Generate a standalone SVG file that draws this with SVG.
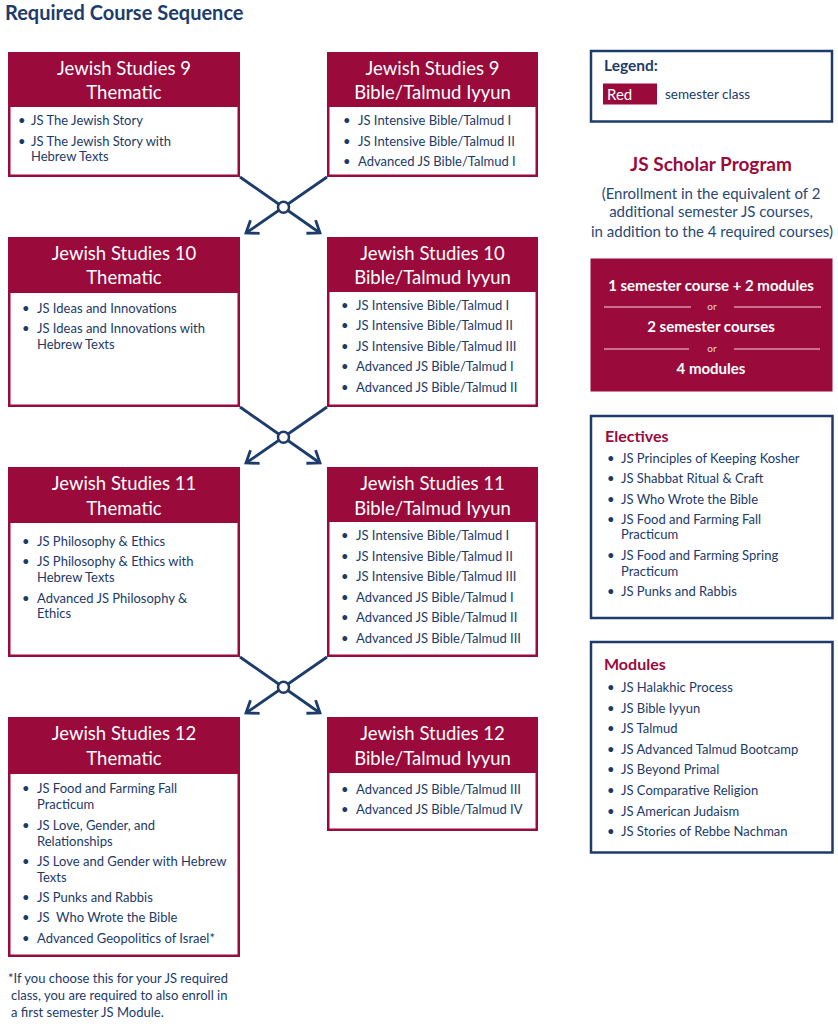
<svg xmlns="http://www.w3.org/2000/svg" width="838" height="1024" viewBox="0 0 838 1024">
<style>
text{font-family:Lato,"Noto Sans","Liberation Sans",sans-serif}
.red{fill:#9a0a3b}
.body{fill:#ffffff}
.hd{fill:#ffffff;font-size:18.5px;text-anchor:middle}
.it{fill:#1b3a68;font-size:13px}
.bl{fill:#1b3a68;font-size:13px}
.nv{fill:none;stroke:#1d3c6b;stroke-width:2.5}
.ttl{fill:#1d3c6b;font-size:20px;font-weight:bold}
.rt{fill:#9a0a3b;font-weight:bold}
.wb{fill:#ffffff;font-weight:bold;font-size:15px;text-anchor:middle}
.or{fill:#f0d8df;font-size:10px;text-anchor:middle}
.conn{fill:none;stroke:#1d3c6b;stroke-width:2.8}
.sp{fill:#2b4874;font-size:15px;text-anchor:middle}
</style>
<defs>
<marker id="arr" markerUnits="userSpaceOnUse" viewBox="-16 -12 20 24" markerWidth="20" markerHeight="24" refX="0" refY="0" orient="auto">
<path d="M-11,-8 L0,0 L-11,8" fill="none" stroke="#1d3c6b" stroke-width="2.8"/>
</marker>
</defs>
<rect width="838" height="1024" fill="#ffffff"/>
<text class="ttl" x="5" y="20">Required Course Sequence</text>

<g id="js9-thematic">
<rect class="red" x="8" y="52" width="232" height="125"/>
<rect class="body" x="10.5" y="107" width="227" height="67.5"/>
<text class="hd" x="124" y="74.5">Jewish Studies 9</text>
<text class="hd" x="124" y="98.5">Thematic</text>
<text class="bl" x="18" y="125">•</text><text class="it" x="31" y="125">JS The Jewish Story</text>
<text class="bl" x="18" y="146">•</text><text class="it" x="31" y="146">JS The Jewish Story with</text>
<text class="it" x="31" y="161">Hebrew Texts</text>
</g>

<g id="js9-bible">
<rect class="red" x="327" y="52" width="211" height="125"/>
<rect class="body" x="329.5" y="107" width="206" height="67.5"/>
<text class="hd" x="432.5" y="74.5">Jewish Studies 9</text>
<text class="hd" x="432.5" y="98.5">Bible/Talmud Iyyun</text>
<text class="bl" x="343" y="125">•</text><text class="it" x="358" y="125">JS Intensive Bible/Talmud I</text>
<text class="bl" x="343" y="146">•</text><text class="it" x="358" y="146">JS Intensive Bible/Talmud II</text>
<text class="bl" x="343" y="166">•</text><text class="it" x="358" y="166">Advanced JS Bible/Talmud I</text>
</g>

<g id="js10-thematic">
<rect class="red" x="8" y="237" width="232" height="170"/>
<rect class="body" x="10.5" y="293" width="227" height="111.5"/>
<text class="hd" x="124" y="259.5">Jewish Studies 10</text>
<text class="hd" x="124" y="284">Thematic</text>
<text class="bl" x="22" y="313">•</text><text class="it" x="37" y="313">JS Ideas and Innovations</text>
<text class="bl" x="22" y="333">•</text><text class="it" x="37" y="333">JS Ideas and Innovations with</text>
<text class="it" x="37" y="349">Hebrew Texts</text>
</g>

<g id="js10-bible">
<rect class="red" x="327" y="237" width="211" height="170"/>
<rect class="body" x="329.5" y="292" width="206" height="112.5"/>
<text class="hd" x="432.5" y="259.5">Jewish Studies 10</text>
<text class="hd" x="432.5" y="284">Bible/Talmud Iyyun</text>
<text class="bl" x="341" y="310">•</text><text class="it" x="356" y="310">JS Intensive Bible/Talmud I</text>
<text class="bl" x="341" y="330">•</text><text class="it" x="356" y="330">JS Intensive Bible/Talmud II</text>
<text class="bl" x="341" y="351">•</text><text class="it" x="356" y="351">JS Intensive Bible/Talmud III</text>
<text class="bl" x="341" y="371">•</text><text class="it" x="356" y="371">Advanced JS Bible/Talmud I</text>
<text class="bl" x="341" y="392">•</text><text class="it" x="356" y="392">Advanced JS Bible/Talmud II</text>
</g>

<g id="js11-thematic">
<rect class="red" x="8" y="467" width="232" height="190"/>
<rect class="body" x="10.5" y="523" width="227" height="131.5"/>
<text class="hd" x="124" y="490">Jewish Studies 11</text>
<text class="hd" x="124" y="514.5">Thematic</text>
<text class="bl" x="22" y="546">•</text><text class="it" x="37" y="546">JS Philosophy &amp; Ethics</text>
<text class="bl" x="22" y="566">•</text><text class="it" x="37" y="566">JS Philosophy &amp; Ethics with</text>
<text class="it" x="37" y="582">Hebrew Texts</text>
<text class="bl" x="22" y="603">•</text><text class="it" x="37" y="603">Advanced JS Philosophy &amp;</text>
<text class="it" x="37" y="618">Ethics</text>
</g>

<g id="js11-bible">
<rect class="red" x="327" y="467" width="211" height="190"/>
<rect class="body" x="329.5" y="522" width="206" height="132.5"/>
<text class="hd" x="432.5" y="490">Jewish Studies 11</text>
<text class="hd" x="432.5" y="514.5">Bible/Talmud Iyyun</text>
<text class="bl" x="341" y="540">•</text><text class="it" x="356" y="540">JS Intensive Bible/Talmud I</text>
<text class="bl" x="341" y="561">•</text><text class="it" x="356" y="561">JS Intensive Bible/Talmud II</text>
<text class="bl" x="341" y="581">•</text><text class="it" x="356" y="581">JS Intensive Bible/Talmud III</text>
<text class="bl" x="341" y="602">•</text><text class="it" x="356" y="602">Advanced JS Bible/Talmud I</text>
<text class="bl" x="341" y="622">•</text><text class="it" x="356" y="622">Advanced JS Bible/Talmud II</text>
<text class="bl" x="341" y="643">•</text><text class="it" x="356" y="643">Advanced JS Bible/Talmud III</text>
</g>

<g id="js12-thematic">
<rect class="red" x="8" y="717" width="232" height="240"/>
<rect class="body" x="10.5" y="774" width="227" height="180.5"/>
<text class="hd" x="124" y="740">Jewish Studies 12</text>
<text class="hd" x="124" y="765">Thematic</text>
<text class="bl" x="22" y="793">•</text><text class="it" x="37" y="793">JS Food and Farming Fall</text>
<text class="it" x="37" y="809">Practicum</text>
<text class="bl" x="22" y="830">•</text><text class="it" x="37" y="830">JS Love, Gender, and</text>
<text class="it" x="37" y="846">Relationships</text>
<text class="bl" x="22" y="866">•</text><text class="it" x="37" y="866">JS Love and Gender with Hebrew</text>
<text class="it" x="37" y="882">Texts</text>
<text class="bl" x="22" y="902">•</text><text class="it" x="37" y="902">JS Punks and Rabbis</text>
<text class="bl" x="22" y="922">•</text><text class="it" x="37" y="922" style="white-space:pre">JS  Who Wrote the Bible</text>
<text class="bl" x="22" y="943">•</text><text class="it" x="37" y="943">Advanced Geopolitics of Israel*</text>
</g>

<g id="js12-bible">
<rect class="red" x="327" y="717" width="211" height="114"/>
<rect class="body" x="329.5" y="773" width="206" height="55.5"/>
<text class="hd" x="432.5" y="740">Jewish Studies 12</text>
<text class="hd" x="432.5" y="765">Bible/Talmud Iyyun</text>
<text class="bl" x="341" y="794">•</text><text class="it" x="356" y="794">Advanced JS Bible/Talmud III</text>
<text class="bl" x="341" y="814">•</text><text class="it" x="356" y="814">Advanced JS Bible/Talmud IV</text>
</g>

<g id="connectors">
<line class="conn" x1="240" y1="177" x2="320" y2="233" marker-end="url(#arr)"/>
<line class="conn" x1="327" y1="177" x2="246" y2="233" marker-end="url(#arr)"/>
<circle cx="283.5" cy="207.3" r="5.5" fill="#ffffff" stroke="#1d3c6b" stroke-width="2.5"/>
<line class="conn" x1="240" y1="407" x2="320" y2="463" marker-end="url(#arr)"/>
<line class="conn" x1="327" y1="407" x2="246" y2="463" marker-end="url(#arr)"/>
<circle cx="283.5" cy="437.3" r="5.5" fill="#ffffff" stroke="#1d3c6b" stroke-width="2.5"/>
<line class="conn" x1="240" y1="657" x2="320" y2="713" marker-end="url(#arr)"/>
<line class="conn" x1="327" y1="657" x2="246" y2="713" marker-end="url(#arr)"/>
<circle cx="283.5" cy="687.3" r="5.5" fill="#ffffff" stroke="#1d3c6b" stroke-width="2.5"/>
</g>

<g id="footnote">
<text class="it" x="8" y="983">*If you choose this for your JS required</text>
<text class="it" x="11" y="1000">class, you are required to also enroll in</text>
<text class="it" x="11" y="1017">a first semester JS Module.</text>
</g>

<g id="legend">
<rect class="nv" x="591" y="51" width="241" height="70.5"/>
<text x="604" y="71" style="fill:#1d3c6b;font-size:15.5px;font-weight:bold">Legend:</text>
<rect class="red" x="603" y="83.5" width="54" height="21"/>
<text x="607" y="99.5" style="fill:#ffffff;font-size:15px">Red</text>
<text x="665" y="99" style="fill:#1b3a68;font-size:13.5px">semester class</text>
</g>

<g id="scholar-program">
<text class="rt" x="711" y="171" style="font-size:19px;text-anchor:middle">JS Scholar Program</text>
<text class="sp" x="711" y="199">(Enrollment in the equivalent of 2</text>
<text class="sp" x="711" y="217">additional semester JS courses,</text>
<text class="sp" x="712" y="237">in addition to the 4 required courses)</text>
<rect class="red" x="590.5" y="258.5" width="242" height="133"/>
<text class="wb" x="711" y="291">1 semester course + 2 modules</text>
<line x1="604" y1="307" x2="691" y2="307" stroke="#f0d8df" stroke-width="1"/>
<text class="or" x="712" y="310">or</text>
<line x1="734" y1="307" x2="821" y2="307" stroke="#f0d8df" stroke-width="1"/>
<text class="wb" x="711" y="332">2 semester courses</text>
<line x1="604" y1="349" x2="689" y2="349" stroke="#f0d8df" stroke-width="1"/>
<text class="or" x="712" y="352">or</text>
<line x1="734" y1="349" x2="820" y2="349" stroke="#f0d8df" stroke-width="1"/>
<text class="wb" x="711" y="373.5">4 modules</text>
</g>

<g id="electives">
<rect class="nv" x="591" y="416" width="241.5" height="202"/>
<text class="rt" x="605" y="442" style="font-size:16px">Electives</text>
<text class="bl" x="607" y="463">•</text><text class="it" x="621" y="463">JS Principles of Keeping Kosher</text>
<text class="bl" x="607" y="483">•</text><text class="it" x="621" y="483">JS Shabbat Ritual &amp; Craft</text>
<text class="bl" x="607" y="504">•</text><text class="it" x="621" y="504">JS Who Wrote the Bible</text>
<text class="bl" x="607" y="524">•</text><text class="it" x="621" y="524">JS Food and Farming Fall</text>
<text class="it" x="621" y="539">Practicum</text>
<text class="bl" x="607" y="560">•</text><text class="it" x="621" y="560">JS Food and Farming Spring</text>
<text class="it" x="621" y="576">Practicum</text>
<text class="bl" x="607" y="596">•</text><text class="it" x="621" y="596">JS Punks and Rabbis</text>
</g>

<g id="modules">
<rect class="nv" x="591" y="642" width="241.5" height="210.5"/>
<text class="rt" x="604" y="670" style="font-size:16px">Modules</text>
<text class="bl" x="607" y="692">•</text><text class="it" x="621" y="692">JS Halakhic Process</text>
<text class="bl" x="607" y="713">•</text><text class="it" x="621" y="713">JS Bible Iyyun</text>
<text class="bl" x="607" y="733">•</text><text class="it" x="621" y="733">JS Talmud</text>
<text class="bl" x="607" y="754">•</text><text class="it" x="621" y="754">JS Advanced Talmud Bootcamp</text>
<text class="bl" x="607" y="774">•</text><text class="it" x="621" y="774">JS Beyond Primal</text>
<text class="bl" x="607" y="795">•</text><text class="it" x="621" y="795">JS Comparative Religion</text>
<text class="bl" x="607" y="816">•</text><text class="it" x="621" y="816">JS American Judaism</text>
<text class="bl" x="607" y="836">•</text><text class="it" x="621" y="836">JS Stories of Rebbe Nachman</text>
</g>
</svg>
